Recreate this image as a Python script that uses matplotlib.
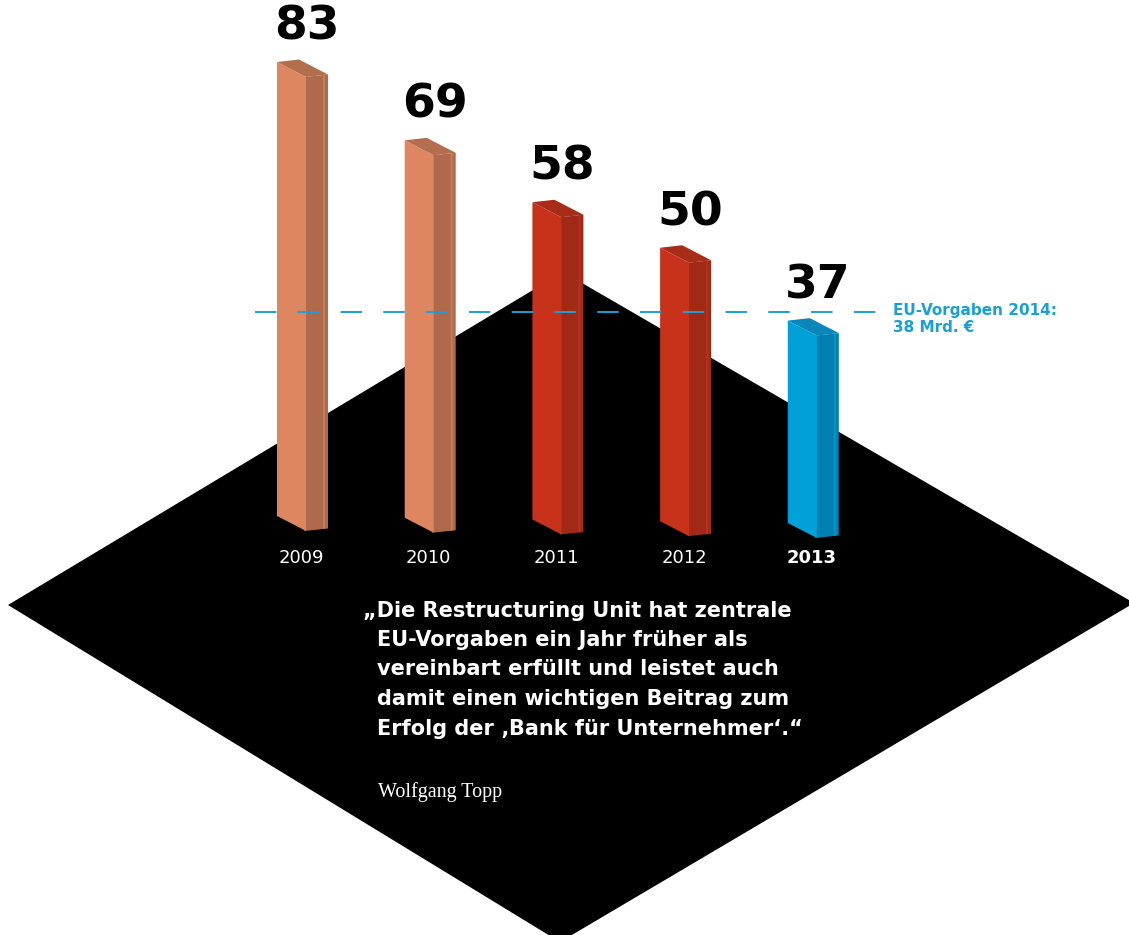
import matplotlib
matplotlib.use("Agg")
import matplotlib.pyplot as plt
from matplotlib.patches import Polygon

# ---- data ----
years = ["2009", "2010", "2011", "2012", "2013"]
values = [83, 69, 58, 50, 37]
eu_target = 38
eu_label = ["EU-Vorgaben 2014:", "38 Mrd. €"]
quote_lines = ["„Die Restructuring Unit hat zentrale",
               "EU-Vorgaben ein Jahr früher als",
               "vereinbart erfüllt und leistet auch",
               "damit einen wichtigen Beitrag zum",
               "Erfolg der ‚Bank für Unternehmer‘.“"]
author = "Wolfgang Topp"

# ---- styles ----
front_cols = ["#DD8660", "#DD8660", "#C8321A", "#C8321A", "#00A1D9"]
side_cols = ["#AF6A4B", "#AF6A4B", "#A02A17", "#A02A17", "#0080B0"]
top_cols = ["#B36E4E", "#B36E4E", "#A82D19", "#A82D19", "#0A86B8"]
strip_cols = ["#C97A57", "#C97A57", "#B9301A", "#B9301A", "#0E93C8"]
blue = "#1AA0D8"

W, H = 1129, 935
fig = plt.figure(figsize=(W / 100, H / 100), dpi=100)
ax = fig.add_axes([0, 0, 1, 1])
ax.set_xlim(0, W)
ax.set_ylim(H, 0)
ax.axis("off")

# black floor (diamond)
ax.add_patch(Polygon([(8, 605), (563, 272), (1134, 603), (560, 942)],
                     closed=True, facecolor="black", edgecolor="none", zorder=0))

# scale for bars
x_first, x_step = 277, 127.7
base_first, base_step = 516, 1.75
px_per_unit = 5.47
fw, fs = 29, 15      # front face width / slope drop
dx, dy = 22, -2.5    # depth vector

for i, (yr, v) in enumerate(zip(years, values)):
    x0 = x_first + i * x_step
    yb = base_first + i * base_step
    h = v * px_per_unit
    front = [(x0, yb), (x0 + fw, yb + fs), (x0 + fw, yb + fs - h), (x0, yb - h)]
    side = [(x0 + fw - 1.5, yb + fs), (x0 + fw + dx, yb + fs + dy),
            (x0 + fw + dx, yb + fs + dy - h), (x0 + fw - 1.5, yb + fs - h)]
    top = [(x0, yb - h), (x0 + fw, yb + fs - h),
           (x0 + fw + dx, yb + fs + dy - h), (x0 + dx, yb + dy - h)]
    ax.add_patch(Polygon(side, closed=True, facecolor=side_cols[i], edgecolor="none", zorder=2))
    # thin lighter strip near back edge of side face
    sx = x0 + fw + dx - 5
    ax.add_patch(Polygon([(sx, yb + fs + dy * (dx - 5) / dx),
                          (sx + 2, yb + fs + dy * (dx - 3) / dx),
                          (sx + 2, yb + fs + dy * (dx - 3) / dx - h),
                          (sx, yb + fs + dy * (dx - 5) / dx - h)],
                         closed=True, facecolor=strip_cols[i], edgecolor="none", zorder=2.5))
    ax.add_patch(Polygon(front, closed=True, facecolor=front_cols[i], edgecolor="none", zorder=3))
    ax.add_patch(Polygon(top, closed=True, facecolor=top_cols[i], edgecolor="none", zorder=3))
    # value label
    ax.text(x0 + fw + 1, yb - h - 35, str(v), ha="center", va="center",
            fontsize=34, fontweight="heavy", color="black", family="DejaVu Sans", zorder=5)
    # year label
    ax.text(x0 + 24, 558, yr, ha="center", va="center", fontsize=13,
            fontweight="bold" if i == len(years) - 1 else "normal", color="white",
            family="DejaVu Sans", zorder=5)

# EU target dashed line
y_eu = 520 - eu_target * px_per_unit
ax.plot([255, 878], [y_eu, y_eu], color=blue, lw=1.4, dashes=(11, 11), zorder=4)
ax.text(893, 310, eu_label[0], ha="left", va="center", fontsize=11, fontweight="bold",
        color=blue, family="DejaVu Sans", zorder=5)
ax.text(893, 327, eu_label[1], ha="left", va="center", fontsize=11, fontweight="bold",
        color=blue, family="DejaVu Sans", zorder=5)

# quote
qy = [611, 640, 669, 699, 729]
for j, line in enumerate(quote_lines):
    ax.text(363 if j == 0 else 377, qy[j], line, ha="left", va="center", fontsize=15,
            fontweight="bold", color="white", family="DejaVu Sans", zorder=5)
ax.text(378, 792, author, ha="left", va="center", fontsize=14.5, color="white",
        family="Liberation Serif", zorder=5)

fig.savefig("out.png", dpi=100)
